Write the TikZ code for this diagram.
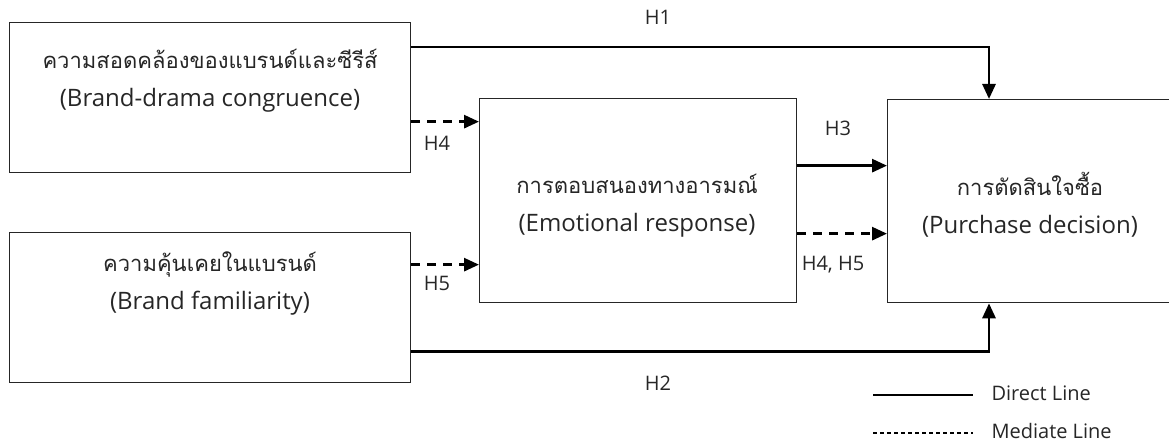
\documentclass[tikz,border=0pt]{standalone}
\usepackage{fontspec}
\setmainfont{Open Sans}
\newfontfamily\thai[Script=Thai]{Loma}
\usetikzlibrary{arrows.meta}
\tikzset{
  box/.style={draw=black!85, line width=1.3pt, inner sep=0pt},
  boxtext/.style={align=center, font=\fontsize{24}{38}\selectfont, text=black!85},
  hlabel/.style={font=\fontsize{20}{22}\selectfont, text=black!85},
  legtext/.style={font=\fontsize{20}{22}\selectfont, text=black!85, anchor=west},
  direct/.style={line width=2.8pt, -{Triangle[length=15pt,width=13pt]}},
  mediate/.style={line width=2.8pt, dash pattern=on 9pt off 7pt, -{Triangle[length=15pt,width=13pt]}},
}
\newcommand{\thaitext}[1]{{\thai\fontsize{22}{38}\selectfont #1}}
\begin{document}
\begin{tikzpicture}[x=1pt,y=-1pt]
\useasboundingbox (0,0) rectangle (1169,441);
% boxes
\node[box, minimum width=401pt, minimum height=150pt, anchor=north west] (A) at (9,22) {};
\node[box, minimum width=401pt, minimum height=150pt, anchor=north west] (B) at (9,232) {};
\node[box, minimum width=317pt, minimum height=204pt, anchor=north west] (C) at (479,98) {};
\node[box, minimum width=300pt, minimum height=203pt, anchor=north west] (D) at (887,99) {};
% texts
\node[boxtext] (tA) at (210,81) {\thaitext{ความสอดคล้องของแบรนด์และซีรีส์}\\(Brand-drama congruence)};
\node[boxtext] (tB) at (210,284) {\thaitext{ความคุ้นเคยในแบรนด์}\\(Brand familiarity)};
\node[boxtext] (tC) at (637,206) {\thaitext{การตอบสนองทางอารมณ์}\\(Emotional response)};
\node[boxtext] (tD) at (1030,205) {\thaitext{การตัดสินใจซื้อ}\\(Purchase decision)};
% connectors
\draw[direct] ([yshift=-25pt]A.north east) -| ([xshift=102pt]D.north west);
\draw[direct] ([yshift=32pt]B.south east) -| ([xshift=102pt]D.south west);
\coordinate (c4) at ([yshift=79pt]C.west);
\coordinate (c5) at ([yshift=-64pt]C.west);
\draw[mediate] (A.east |- c4) -- (c4);
\draw[mediate] (B.east |- c5) -- (c5);
\coordinate (c3) at ([yshift=35pt]C.east);
\coordinate (c45) at ([yshift=-33pt]C.east);
\draw[direct] (c3) -- (D.west |- c3);
\draw[mediate] (c45) -- (D.west |- c45);
% labels
\node[hlabel] (h1) at (658,17) {H1};
\node[hlabel] (h2) at (658,383) {H2};
\node[hlabel] (h4) at (437,143) {H4};
\node[hlabel] (h5) at (437,283) {H5};
\node[hlabel] (h3) at (838,128) {H3};
\node[hlabel] (h45) at (833,265) {H4, H5};
% legend
\coordinate (l1a) at (873,395);
\coordinate (l1b) at (973,395);
\coordinate (l2a) at (873,433);
\coordinate (l2b) at (973,433);
\draw[line width=1.1pt] (l1a) -- (l1b);
\draw[line width=1.1pt, dash pattern=on 4pt off 3pt] (l2a) -- (l2b);
\node[legtext] (ld) at (988,393) {Direct Line};
\node[legtext] (lm) at (988,431) {Mediate Line};
\end{tikzpicture}
\end{document}
